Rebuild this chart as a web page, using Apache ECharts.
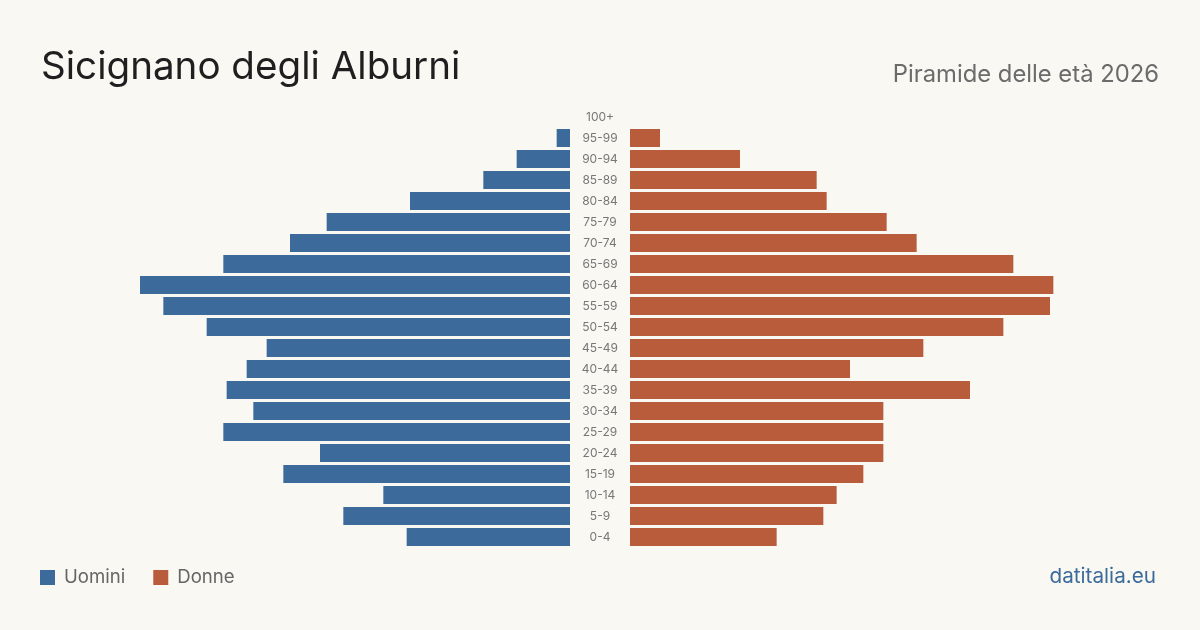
<!DOCTYPE html>
<html>
<head>
<meta charset="utf-8">
<script src="https://cdn.jsdelivr.net/npm/echarts@6/dist/echarts.min.js"></script>
<style>
html,body{margin:0;padding:0;background:#faf8f3;}
#c{width:1200px;height:630px;}
</style>
</head>
<body>
<div id="c"></div>
<script>
const ageGroups = ['0-4','5-9','10-14','15-19','20-24','25-29','30-34','35-39','40-44','45-49','50-54','55-59','60-64','65-69','70-74','75-79','80-84','85-89','90-94','95-99','100+'];
const men   = [49,68,56,86,75,104,95,103,97,91,109,122,129,104,84,73,48,26,16,4,0];
const women = [44,58,62,70,76,76,76,102,66,88,112,126,127,115,86,77,59,56,33,9,0];
const axisMax = 159;

const FONT = 'Inter, "Noto Sans", sans-serif';
const BLUE = '#3b6a9b';
const RED = '#b85c3b';

const chart = echarts.init(document.getElementById('c'), null, {renderer:'canvas'});
chart.setOption({
  backgroundColor: '#faf8f3',
  animation: false,
  textStyle: {fontFamily: FONT},
  legend: {
    left: 40, top: 568, padding: 0,
    icon: 'rect', itemWidth: 15, itemHeight: 15, itemGap: 28,
    textStyle: {fontFamily: FONT, fontSize: 18.6, color: '#666', padding: [0,0,0,4]},
    data: ['Uomini','Donne']
  },
  grid: [
    {left: 40, right: 630, top: 106.5, height: 441},
    {left: 630, right: 40, top: 106.5, height: 441}
  ],
  xAxis: [
    {gridIndex: 0, type: 'value', inverse: true, min: 0, max: axisMax, show: false},
    {gridIndex: 1, type: 'value', min: 0, max: axisMax, show: false}
  ],
  yAxis: [
    {gridIndex: 0, type: 'category', data: ageGroups, position: 'right',
     axisLine: {show: false}, axisTick: {show: false}, splitLine: {show: false},
     axisLabel: {show: true, align: 'center', margin: 30, fontSize: 12, color: '#777', fontFamily: FONT}},
    {gridIndex: 1, type: 'category', data: ageGroups, show: false}
  ],
  series: [
    {name: 'Uomini', type: 'bar', xAxisIndex: 0, yAxisIndex: 0, data: men, barWidth: 18,
     itemStyle: {color: BLUE}},
    {name: 'Donne', type: 'bar', xAxisIndex: 1, yAxisIndex: 1, data: women, barWidth: 18,
     itemStyle: {color: RED}}
  ],
  graphic: [
    {type: 'text', left: 41, top: 48, style: {text: 'Sicignano degli Alburni', font: '400 38.6px ' + FONT, fill: '#1f1f1f'}},
    {type: 'text', right: 41, top: 63, style: {text: 'Piramide delle età 2026', font: '400 23.8px ' + FONT, fill: '#6b6b6b'}},
    {type: 'text', right: 44, top: 566, style: {text: 'datitalia.eu', font: '400 20.7px ' + FONT, fill: '#3b6a9b'}}
  ]
});
</script>
</body>
</html>
